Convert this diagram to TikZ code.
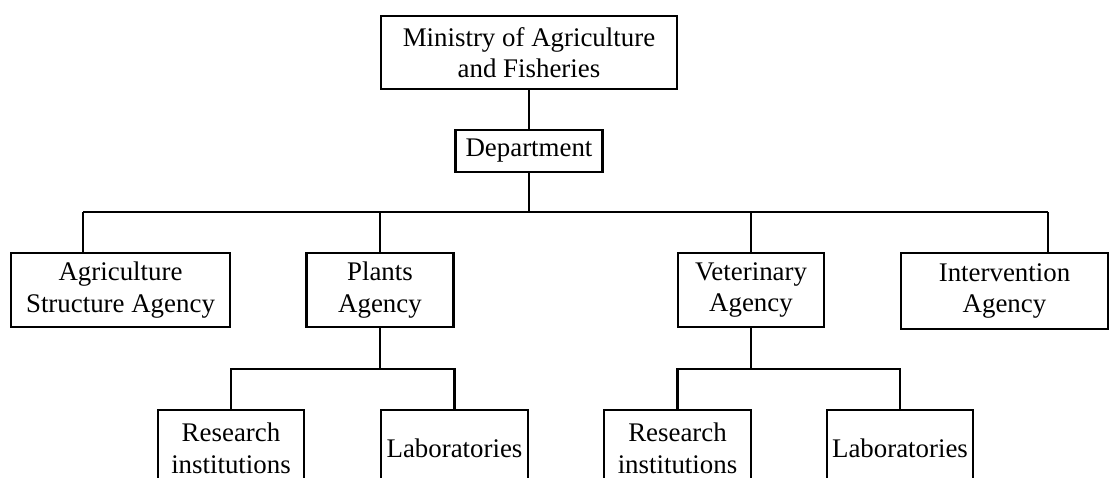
\documentclass[tikz,border=0pt]{standalone}
\usepackage{fontspec}
\setmainfont{Liberation Serif}
\usetikzlibrary{positioning,calc}

\begin{document}
\begin{tikzpicture}[
  x=0.02cm, y=-0.02cm,
  every node/.style={font=\fontsize{15.3pt}{18pt}\selectfont},
  orgbox/.style={draw, line width=1.2pt, inner sep=0pt, align=center,
                 minimum height=1.48cm},
  link/.style={line width=1.2pt}
]
\useasboundingbox (0,0) rectangle (1109,477);
\clip (0,0) rectangle (1109,477);

% top of the hierarchy
\node[orgbox, minimum width=5.92cm, minimum height=1.46cm] (ministry) at (529,52.5)
  {Ministry of Agriculture\\and Fisheries};
\node[orgbox, minimum width=2.94cm, minimum height=0.84cm] (dept) at (529,151)
  {Department};

% agencies
\node[orgbox, minimum width=4.38cm] (agri) at (120.5,290)
  {Agriculture\\Structure Agency};
\node[orgbox, minimum width=2.94cm] (plants) at (380,290)
  {Plants\\Agency};
\node[orgbox, minimum width=2.92cm] (vet) at (751,290)
  {Veterinary\\Agency};
\node[orgbox, minimum width=4.14cm, minimum height=1.52cm] (interv) at (1004.5,291)
  {Intervention\\Agency};

% sub-units
\node[orgbox, minimum width=2.92cm, minimum height=1.52cm] (res1) at (231,448)
  {Research\\institutions};
\node[orgbox, minimum width=2.94cm, minimum height=1.52cm] (lab1) at (454.5,448)
  {Laboratories};
\node[orgbox, minimum width=2.94cm, minimum height=1.52cm] (res2) at (677.5,448)
  {Research\\institutions};
\node[orgbox, minimum width=2.92cm, minimum height=1.52cm] (lab2) at (900,448)
  {Laboratories};

\coordinate (busL) at (83,212);
\coordinate (busR) at (1048,212);
\coordinate (subbar) at (0,369);

\draw[link] (ministry.south) -- (dept.north);
\draw[link] (dept.south) -- (dept.south |- busL);
\draw[link] (busL) -- (busR);
\draw[link] (busL) -- (agri.north -| busL);
\draw[link] (plants.north |- busL) -- (plants.north);
\draw[link] (vet.north |- busL) -- (vet.north);
\draw[link] (busR) -- (interv.north -| busR);

\draw[link] (plants.south) -- (plants.south |- subbar);
\draw[link] (res1.north) -- (res1.north |- subbar) -- (lab1.north |- subbar) -- (lab1.north);
\draw[link] (vet.south) -- (vet.south |- subbar);
\draw[link] (res2.north) -- (res2.north |- subbar) -- (lab2.north |- subbar) -- (lab2.north);

\end{tikzpicture}
\end{document}
